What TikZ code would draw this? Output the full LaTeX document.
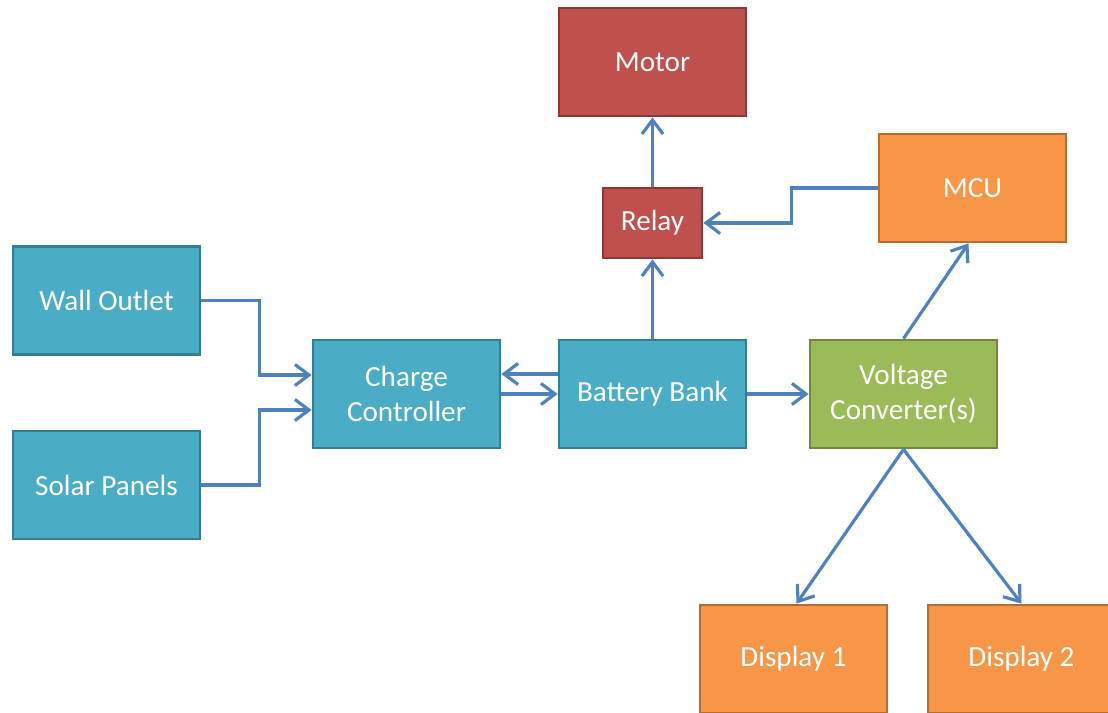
\documentclass[tikz,border=0pt]{standalone}
\usepackage{fontspec}
\setmainfont{Carlito}
\usepackage{xcolor}
\usetikzlibrary{positioning, arrows.meta}

\definecolor{aquafill}{HTML}{4BACC6}
\definecolor{aqualine}{HTML}{357D91}
\definecolor{redfill}{HTML}{C0504D}
\definecolor{redline}{HTML}{8C3836}
\definecolor{orangefill}{HTML}{F79646}
\definecolor{orangeline}{HTML}{B66D31}
\definecolor{greenfill}{HTML}{9BBB59}
\definecolor{greenline}{HTML}{71893F}
\definecolor{wire}{HTML}{4F81BD}

\begin{document}
\begin{tikzpicture}[
  box/.style={draw, line width=0.8pt, minimum width=1.87cm, minimum height=1.08cm, align=center, text=white, font=\fontsize{8.3}{10}\selectfont},
  aqua/.style={box, fill=aquafill, draw=aqualine},
  redbox/.style={box, fill=redfill, draw=redline},
  orange/.style={box, fill=orangefill, draw=orangeline},
  green/.style={box, fill=greenfill, draw=greenline},
  arrow/.style={-{Straight Barb[length=4pt, width=6pt]}, draw=wire, line width=0.9pt}
]
\useasboundingbox (0,0) rectangle (11.08,7.13);
\begin{scope}
\clip (0,0) rectangle (11.08,7.13);
\node[aqua] (wall) at (1.065,4.125) {Wall Outlet};
\node[aqua] (solar) at (1.065,2.28) {Solar Panels};
\node[aqua] (cc) at (4.065,3.19) {Charge\\Controller};
\node[aqua] (bat) at (6.525,3.19) {Battery Bank};
\node[green] (vc) at (9.035,3.19) {Voltage\\Converter(s)};
\node[redbox] (motor) at (6.525,6.51) {Motor};
\node[redbox, minimum width=0.99cm, minimum height=0.70cm] (relay) at (6.525,4.90) {Relay};
\node[orange] (mcu) at (9.725,5.25) {MCU};
\node[orange] (disp1) at (7.935,0.54) {Display 1};
\node[orange] (disp2) at (10.215,0.54) {Display 2};
\end{scope}

\draw[arrow] (wall.east) -- ++(0.58,0) |- ([yshift=1.9mm]cc.west);
\draw[arrow] (solar.east) -- ++(0.58,0) |- ([yshift=-1.6mm]cc.west);
\draw[arrow] ([yshift=2mm]bat.west) -- ([yshift=2mm]cc.east);
\draw[arrow] (cc.east) -- (bat.west);
\draw[arrow] (bat.east) -- (vc.west);
\draw[arrow] (bat.north) -- (relay.south);
\draw[arrow] (relay.north) -- (motor.south);
\draw[arrow] (mcu.west) -- ++(-0.86,0) |- (relay.east);
\draw[arrow] (vc.north) -- ([xshift=-0.4mm]mcu.south);
\draw[arrow] (vc.south) -- ([xshift=0.3mm]disp1.north);
\draw[arrow] (vc.south) -- (disp2.north);
\end{tikzpicture}
\end{document}
